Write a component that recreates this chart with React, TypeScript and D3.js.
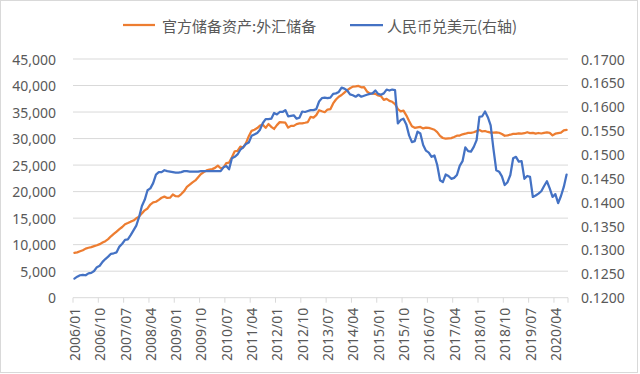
import React from 'react';
import * as d3 from 'd3';

// 官方储备资产:外汇储备 (亿美元), monthly 2006/01 - 2020/08
const reserves = [
  8451, 8537, 8751, 8950, 9250, 9411, 9545, 9720, 9879, 10096, 10387, 10663,
  11046, 11573, 12020, 12470, 12926, 13326, 13852, 14086, 14336, 14550, 14968, 15282,
  15898, 16471, 16822, 17566, 17969, 18088, 18452, 18841, 19056, 18797, 18847, 19460,
  19135, 19121, 19537, 20089, 20898, 21316, 21746, 22110, 22726, 23300, 23700, 23992,
  24153, 24245, 24471, 24905, 24395, 24543, 25381, 25480, 26483, 27609, 27678, 28473,
  28316, 29143, 30447, 31458, 31659, 31975, 32452, 32625, 32017, 32738, 32209, 31811,
  32536, 33096, 33050, 32989, 32061, 32400, 32400, 32730, 32850, 32870, 32980, 33116,
  34100, 33950, 34426, 35345, 35148, 34967, 35478, 35530, 36627, 37366, 37894, 38213,
  38666, 39137, 39481, 39788, 39839, 39932, 39662, 39688, 38877, 38529, 38474, 38430,
  38134, 38015, 37301, 37481, 37111, 36938, 36513, 35574, 35141, 35255, 34383, 33304,
  32309, 32023, 32126, 32197, 31917, 32052, 32011, 31851, 31664, 31206, 30516, 30105,
  29982, 30051, 30091, 30295, 30536, 30568, 30807, 30915, 31085, 31092, 31193, 31399,
  31615, 31345, 31428, 31249, 31106, 31121, 31179, 31097, 30870, 30531, 30617, 30727,
  30879, 30902, 30988, 30950, 31010, 31192, 31037, 31071, 30924, 31052, 30956, 31079,
  31155, 31067, 30606, 30915, 31017, 31123, 31544, 31646,
];

// 人民币兑美元 (右轴)
const cnyUsd = [
  0.1240, 0.1244, 0.1247, 0.1248, 0.1247, 0.1251, 0.1252, 0.1256, 0.1264, 0.1267, 0.1275, 0.1281,
  0.1286, 0.1292, 0.1293, 0.1295, 0.1307, 0.1313, 0.1321, 0.1322, 0.1331, 0.1341, 0.1351, 0.1369,
  0.1392, 0.1405, 0.1425, 0.1429, 0.1440, 0.1458, 0.1463, 0.1463, 0.1467, 0.1465, 0.1464, 0.1463,
  0.1462, 0.1462, 0.1463, 0.1465, 0.1465, 0.1464, 0.1464, 0.1464, 0.1464, 0.1465, 0.1465, 0.1465,
  0.1465, 0.1465, 0.1465, 0.1465, 0.1465, 0.1473, 0.1476, 0.1469, 0.1492, 0.1495, 0.1500, 0.1510,
  0.1515, 0.1522, 0.1525, 0.1539, 0.1542, 0.1545, 0.1552, 0.1566, 0.1574, 0.1574, 0.1575, 0.1587,
  0.1584, 0.1589, 0.1589, 0.1593, 0.1580, 0.1581, 0.1582, 0.1575, 0.1577, 0.1590, 0.1589, 0.1591,
  0.1593, 0.1593, 0.1595, 0.1611, 0.1618, 0.1619, 0.1618, 0.1619, 0.1627, 0.1628, 0.1631, 0.1640,
  0.1638, 0.1634, 0.1626, 0.1624, 0.1621, 0.1625, 0.1621, 0.1623, 0.1625, 0.1627, 0.1628, 0.1634,
  0.1627, 0.1625, 0.1628, 0.1636, 0.1634, 0.1636, 0.1635, 0.1565, 0.1572, 0.1575, 0.1563, 0.1540,
  0.1526, 0.1528, 0.1548, 0.1544, 0.1520, 0.1508, 0.1504, 0.1495, 0.1498, 0.1478, 0.1446, 0.1442,
  0.1458, 0.1455, 0.1449, 0.1451, 0.1457, 0.1476, 0.1486, 0.1515, 0.1507, 0.1506, 0.1516, 0.1530,
  0.1579, 0.1580, 0.1590, 0.1578, 0.1561, 0.1511, 0.1467, 0.1464, 0.1454, 0.1436, 0.1442, 0.1457,
  0.1492, 0.1495, 0.1485, 0.1486, 0.1449, 0.1455, 0.1453, 0.1411, 0.1414, 0.1418, 0.1423, 0.1434,
  0.1444, 0.1429, 0.1411, 0.1417, 0.1398, 0.1413, 0.1432, 0.1458,
];

const leftTicks = [0, 5000, 10000, 15000, 20000, 25000, 30000, 35000, 40000, 45000];
const rightTicks = [0.12, 0.125, 0.13, 0.135, 0.14, 0.145, 0.15, 0.155, 0.16, 0.165, 0.17];
const seriesNames = ['官方储备资产:外汇储备', '人民币兑美元(右轴)'];
const seriesColors = ['#ED7D31', '#4472C4'];

// month labels 2006/01 ... one per data point
const months = reserves.map((_, i) => {
  const y = 2006 + Math.floor(i / 12);
  const m = (i % 12) + 1;
  return `${y}/${m < 10 ? '0' + m : m}`;
});

const W = 640;
const H = 374;
const plot = { left: 73, right: 568, top: 59, bottom: 297.7 };
const axisFont = '"Noto Sans", "DejaVu Sans", sans-serif';
const cjkFont = '"Noto Sans CJK SC", "Noto Sans", sans-serif';
const textColor = '#595959';
const gridColor = '#d9d9d9';

const App = () => {
  const x = d3.scaleBand().domain(months).range([plot.left, plot.right]).paddingInner(0).paddingOuter(0);
  const bw = x.bandwidth();
  const cx = (i) => x(months[i]) + bw / 2;
  const yL = d3.scaleLinear().domain([0, 45000]).range([plot.bottom, plot.top]);
  const yR = d3.scaleLinear().domain([0.12, 0.17]).range([plot.bottom, plot.top]);

  const lineL = d3.line().x((d, i) => cx(i)).y((d) => yL(d));
  const lineR = d3.line().x((d, i) => cx(i)).y((d) => yR(d));

  const fmtL = d3.format(',');
  const fmtR = d3.format('.4f');

  // tick marks and labels every 9 months
  const labelIdx = months.map((_, i) => i).filter((i) => i % 9 === 0);

  return (
    <svg width={W} height={H} style={{ display: 'block' }}>
      <style>{`body{margin:0}`}</style>
      <rect x={0} y={0} width={W} height={H} fill="#fff" />
      <rect x={0.5} y={0.5} width={637} height={372} fill="none" stroke={gridColor} />

      {/* legend */}
      <g fontFamily={cjkFont} fontSize={15} fill={textColor}>
        <line x1={123} x2={155} y1={25} y2={25} stroke={seriesColors[0]} strokeWidth={2.25} />
        <text x={162} y={25} dominantBaseline="central">{seriesNames[0]}</text>
        <line x1={350} x2={383} y1={25} y2={25} stroke={seriesColors[1]} strokeWidth={2.25} />
        <text x={387} y={25} dominantBaseline="central">{seriesNames[1]}</text>
      </g>

      {/* grid lines + left axis */}
      <g fontFamily={axisFont} fontSize={14} fill={textColor}>
        {leftTicks.map((t) => (
          <g key={t}>
            <line x1={plot.left} x2={plot.right} y1={yL(t)} y2={yL(t)} stroke={gridColor} strokeWidth={1} />
            <text x={56} y={yL(t)} textAnchor="end" dominantBaseline="central">{fmtL(t)}</text>
          </g>
        ))}
        {rightTicks.map((t) => (
          <text key={t} x={581} y={yR(t)} dominantBaseline="central">{fmtR(t)}</text>
        ))}
      </g>

      {/* x axis ticks and labels */}
      <g fontFamily={axisFont} fontSize={14} fill={textColor}>
        {labelIdx.map((i) => (
          <line key={'t' + i} x1={x(months[i])} x2={x(months[i])} y1={plot.bottom} y2={plot.bottom + 5} stroke={gridColor} />
        ))}
        <line x1={plot.right} x2={plot.right} y1={plot.bottom} y2={plot.bottom + 5} stroke={gridColor} />
        {labelIdx.map((i) => (
          <text key={i} transform={`translate(${cx(i)},${plot.bottom + 10}) rotate(-90)`} textAnchor="end" dominantBaseline="central">
            {months[i]}
          </text>
        ))}
      </g>

      {/* series */}
      <path d={lineL(reserves)} fill="none" stroke={seriesColors[0]} strokeWidth={2.25} strokeLinejoin="round" strokeLinecap="round" />
      <path d={lineR(cnyUsd)} fill="none" stroke={seriesColors[1]} strokeWidth={2.25} strokeLinejoin="round" strokeLinecap="round" />
    </svg>
  );
};

export default App;
